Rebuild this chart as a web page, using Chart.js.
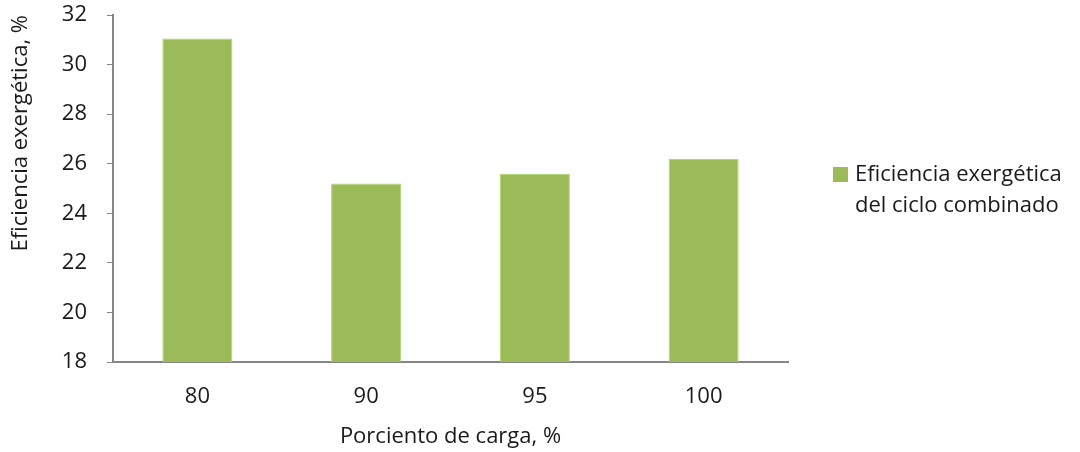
<!DOCTYPE html>
<html>
<head>
<meta charset="utf-8">
<script src="https://cdn.jsdelivr.net/npm/chart.js@4/dist/chart.umd.min.js"></script>
<style>
  html, body { margin: 0; padding: 0; background: #ffffff; }
  #wrap { width: 1080px; height: 452px; }
</style>
</head>
<body>
<div id="wrap"><canvas id="c" width="1080" height="452"></canvas></div>
<script>
// Load percentage categories and combined-cycle exergy efficiency
const categories = ['80', '90', '95', '100'];
const efficiency = [31.05, 25.2, 25.6, 26.2];
const yTicks = [18, 20, 22, 24, 26, 28, 30, 32];
const seriesName = ['Eficiencia exergética', 'del ciclo combinado'];
const xTitle = 'Porciento de carga, %';
const yTitle = 'Eficiencia exergética, %';

const FONT = '"Open Sans", "Liberation Sans", sans-serif';
const FS = 22;
const TEXT = '#1a1a1a';
const AXIS = '#868686';

// Legend drawn at the right, wrapped onto two lines
const sideLegend = {
  id: 'sideLegend',
  afterDraw(chart) {
    const ctx = chart.ctx;
    const ds = chart.data.datasets[0];
    const x = 833, y = 167;
    ctx.save();
    ctx.fillStyle = ds.backgroundColor;
    ctx.fillRect(x, y, 15, 15);
    ctx.font = FS + 'px ' + FONT;
    ctx.fillStyle = TEXT;
    ctx.textBaseline = 'middle';
    ctx.textAlign = 'left';
    ds.label.forEach((line, i) => ctx.fillText(line, x + 22, y + 8 + i * 31));
    ctx.restore();
  }
};

new Chart(document.getElementById('c'), {
  type: 'bar',
  data: {
    labels: categories,
    datasets: [{
      label: seriesName,
      data: efficiency,
      backgroundColor: '#9BBB59',
      borderColor: '#A9D86E',
      borderWidth: 1,
      barPercentage: 0.415,
      categoryPercentage: 1.0
    }]
  },
  options: {
    responsive: false,
    animation: false,
    layout: { padding: { left: 0, right: 292, top: 15, bottom: 0 } },
    plugins: {
      legend: { display: false },
      tooltip: { enabled: false }
    },
    scales: {
      x: {
        afterFit(scale) { scale.height = 90; scale.paddingLeft = 0; scale.paddingRight = 0; },
        grid: { display: false, drawTicks: false },
        border: { color: AXIS, width: 2 },
        ticks: { color: TEXT, font: { family: FONT, size: FS }, padding: 22 },
        title: {
          display: true, text: xTitle, color: TEXT,
          font: { family: FONT, size: FS }, padding: { top: 0, bottom: 2 }
        }
      },
      y: {
        min: 18, max: 32,
        afterBuildTicks(scale) { scale.ticks = yTicks.map(v => ({ value: v })); },
        afterFit(scale) { scale.width = 113; scale.paddingTop = 0; scale.paddingBottom = 0; },
        grid: { drawOnChartArea: false, drawTicks: true, tickLength: 6, color: AXIS, lineWidth: 1 },
        border: { color: AXIS, width: 2 },
        ticks: { color: TEXT, font: { family: FONT, size: FS }, padding: 20 },
        title: {
          display: true, text: yTitle, color: TEXT, align: 'end',
          font: { family: FONT, size: FS }, padding: { top: 8, bottom: 0 }
        }
      }
    }
  },
  plugins: [sideLegend]
});
</script>
</body>
</html>
